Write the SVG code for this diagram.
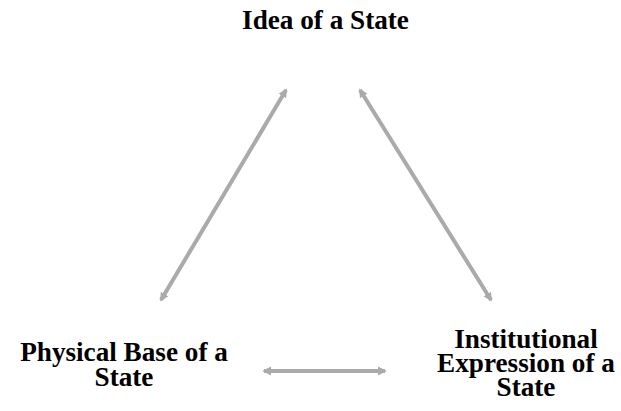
<svg xmlns="http://www.w3.org/2000/svg" width="621" height="411" viewBox="0 0 621 411">
  <style>
    .label { font-family: "Liberation Serif", "Times New Roman", serif; font-weight: bold; font-size: 27.2px; fill: #000; text-anchor: middle; }
    .link { stroke: #aaaaaa; stroke-width: 4; fill: none; marker-start: url(#head); marker-end: url(#head); }
  </style>
  <defs>
    <marker id="head" viewBox="0 0 10 10" refX="8" refY="5" markerWidth="2.2" markerHeight="2.6" orient="auto-start-reverse" markerUnits="strokeWidth">
      <path d="M0,0 L10,5 L0,10 z" fill="#aaaaaa"/>
    </marker>
  </defs>
  <rect width="621" height="411" fill="#ffffff"/>

  <g id="idea">
    <text class="label" x="325.5" y="29">Idea of a State</text>
  </g>
  <g id="physical-base">
    <text class="label" x="124" y="361">Physical Base of a</text>
    <text class="label" x="124" y="386">State</text>
  </g>
  <g id="institutional-expression">
    <text class="label" x="526" y="348">Institutional</text>
    <text class="label" x="526" y="372">Expression of a</text>
    <text class="label" x="526" y="396">State</text>
  </g>

  <g id="connectors">
    <line class="link" x1="286" y1="90" x2="161" y2="300"/>
    <line class="link" x1="360" y1="90" x2="491" y2="300"/>
    <line class="link" x1="264" y1="371" x2="385" y2="371"/>
  </g>
</svg>
